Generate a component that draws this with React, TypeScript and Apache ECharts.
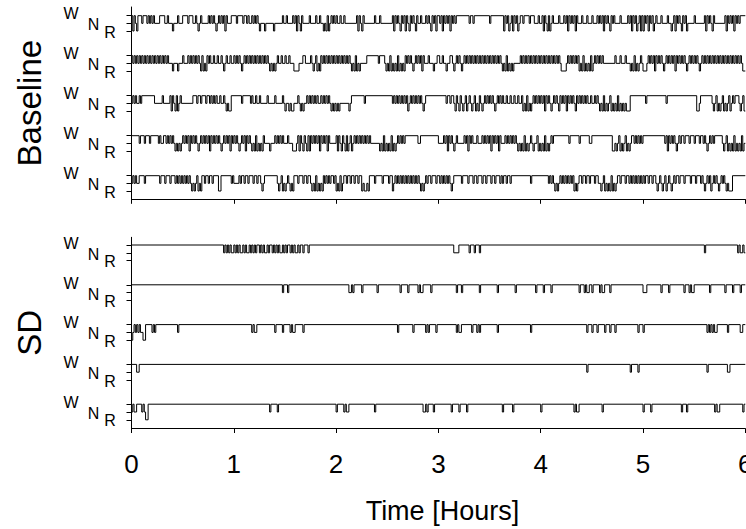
import React, { useEffect, useRef } from "react";
import * as echarts from "echarts";

// ---- data -------------------------------------------------------------
const X_TICKS = [0, 1, 2, 3, 4, 5, 6];
const STATE_LABELS = ["W", "N", "R"]; // wake, NREM, REM (top -> bottom)
const PANEL_NAMES = ["Baseline", "SD"];
const X_TITLE = "Time [Hours]";

// Each trace: one string per hour. Every character is one equal slice of that hour;
// a token like "W48" stands for 48 consecutive slices of W.
const baseline1 = [
  "WRWNRW WWNWWW NWNWNW NNNN WWWW NN WN NN RN NN WN NN WWWWNWWW NN WNRNWN NNNN WNWNWNRNWNWNWRWN NN WW",
  "WWNWWWWNWWNWNN WNWNWN RNNNRNNNNNNRNNNNNN WNNWNN NNWNWRWNRW NNNNNWNNNN WNNWNN RNRWRN WNWN",
  "WNNWNNWN NNNNNNNN WRWNRW NNNNNNNN WNNNWN NNNNNNNN WRWNWNRWNWRWNRWNWNRW NNWNNNWN WNRWNWRW",
  "WNWRWNWNWRWNWN W10 NWWN W12 NW W8 WRWNWRNWRWNWRN WWNWWWWNWWWN NNWN",
  "NWRWNRWRNW NNNNWNNN WNWRWNWNWRWN NNWNNNWNNNWNNNWN WNWRWNWNRWNW NNNNWNNNNNWN WRWNWRNWRW",
  "RWNWRWNWRNWN NNWNNNNWNNRN WRWNWNRWNWRN NNNNWNNNNNNN WRWNWNRW NNNNNNNN WRWNWNWRWNWN WWWW",
];
const baseline2 = [
  "WNWNWNWNWNWNWNWNWNWNWNWNWNWNWN NNRNNNRN NNWNNN WNWNWNWNWN RWRNRW NWNNWNNWNNWNRNWNNWNN",
  "WNWNWNRNWNWNWN WNWNWNWNWNWNWNRN RNRN WNNWNNWNNWNN NRRRRN NNWWNNNNWN RNWRNRWN WNWNWNWNWN",
  "WNWNWNWNWNWN RNRWRNRN NNNN WWWWWWWWWNWWWW NRNRWRNRNRWRNRNR WNWNWNRNWNWNWRWN NNWNNNRNNW",
  "WNNWNNRNNW WNRNWNWNRNWNWNWN WNWNWNWNWNWNWNWNWNWNWNWN RNRWRNRNRN NNNN WNWNWNWNWNWNWNWN",
  "WNWNWNWNWNWNWNWN RRRR NWNWNWNWNW RNRWRNRNRWRN WNWNWNWN NNNNNNNN WNNNWNNNWNNN RNRWRNRNWN",
  "RRRN WNWNWR WNWNWN RNWNWN WNWRWN WNWNWN RNWNWN WNWNRN WNWNWNWNWNWNWNWNWNWNWNWNWNWNWNWN RR",
];
const baseline3 = [
  "NWNWNNWN W10 NNNNNNWNNNNN WRWNRWRNWN NNNNNNNN WWWNWWNWWWNW WNWNWNWN NWNNWNRNRRWW",
  "WWWWWWNWWWWWWN WNNWNNWN NNNNWNNNNNWNNNNNWN RNNRNRRNNN WNRNRNNW NWNWNWNWNNWNWNWNWN RNRN",
  "RNRN NNNNNN RN WWWWWWWWWWNW W20 NWNWNWNWNWNW RN WNWNWNWNWN RN W10",
  "WWWWWW NWWNWW NRWNRWNRNWRNWNRNWRNRWNRN WNWNWNWNRNWNWN WNNWNNWNNWNNWNNW RNRWRNRN WNWNWN",
  "WNWRWNWNRNWNWNRW NWNWRWNWNWNRWNWNWNWN WNNWNNWNWN RNRWRNRNWRNRNRWRNRNRNR RR W10",
  "WW NW W14 NW W22 RR NWWWWWWWWW NRNWRNRNWRNRNWRN WNWWWN RNWR",
];
const baseline4 = [
  "WWWWWWNWWWNWWWNWWWWW WNWNNWWN WNWNWN RNRNRN WNWNWRWNWNWNRNWNWNWNWRWNWNWNWNRNWNWNWRWN",
  "WNWNRNWNWRWNWN RNRWRNRNRW NNNNRNNN WNWNWNWN NNWNNN RRRN WRWNRWNRWRWN WNWNWRWNWNWRWN NNNN",
  "WRWNRWNRWRNWRN WNWNWNWNWNWNWN NNNNNN RNRWRNRNRWRNRN WNWNWN W10 NN W14",
  "NNNN WNWRWNWNRNWN NNNN WNWRWNWN NNWNNNWN WNWNWRWNWNWRWN NNWN WNWNWNWN RNRNRWRNRN WNRNNWRN",
  "RNRWRNRNWN W12 NW W6 NW W6 NN W16 RR NRNWRNRNWRNRNW WNWNWNWN",
  "W16 WNWRWNWNWNRNWN WWNWWWNWWWNWWWNW WNWNRNWNWN W6 NRNWRNRNRWRNRNRWRN",
];
const baseline5 = [
  "NWNWNNWW WWNWWW WWWWWWWW NWWWNWWWNWWW NWNWNWNWNWNW NRNRNWRNRW WNWWNWWN WWWWRRWWWWWWWWNW",
  "NNNNWNWWNWWNWW WNWWNWWNRNWW WWWWWWWW NRNWRNRNWNRNRW WWNWWWNWWNWW NRNRWRNRNRWN WNWNWWNW",
  "RNRWRN WWNWWNWWNWWNWW RNRRNRWW WWNWWWWWNWWWWNWW RNWNWNWNWNWNWNWNWNWNWNRNRNWN WWNWWWNW",
  "WNWNWNWNWNRNWWWW WWNWWWWNWW WNWWNWWWNWWNWWWNWWNWWWNW NWWNWWNWWW WWWWWWWW WWWWNWWWWWWW",
  "WWWWWW NWNWNRNRNWNWNWNWNWNWRNRN WWNWWNWWNWWWNWWN NRNWRNRNRWRNRN WWNWWWNW WNWNWNWNWNWN",
  "WNWWNWWNWW NRNWNRNWRNWNRNWN WWNWWWNWWWWNWWWNWWWN WNRNWNWRNWNWNRNWNWNRNRRR W10",
];

const sd1 = [
  "W72 NWNWNWNN",
  "WNWNWNNWNWNNWN WNWNWWNWNW NNWNWWNWNW NWNNWNWNWW NWNWNNWNWW NWWWNW W20",
  "W",
  "W12 NNNN W8 NWWWNWWWNW W46",
  "W",
  "W48 NW W24 NWNNWN",
];
const sd2 = [
  "W",
  "W38 NW WW NW W36",
  "W10 NNWN W6 NW W10 NW W16 NW W4 NW W6 NWNN W6 NW W4",
  "W14 NW WW NW W12 NW W12 NW W12 NW W14 NW WW",
  "WW NW W4 NW W20 NW WW NWNN WW NW W4 NWNN W4 NW W24",
  "NNNW W10 NW W4 NW W10 NW WW NWNN W12 NW W10 NW W4 NW W4 NW WW",
];
const sd3 = [
  "RNWNWNWNNRRW W4 NWNW W16 NW W42",
  "W14 NWNN W14 NW W4 NW W4 NWNN W6 NW W24",
  "W48 NW W10 NW W8 NWNW W4 NW",
  "W14 NWNN W8 NW WW NWNW W12 NW W24 NW W6",
  "W36 NW WW NW WW NW W4 NW WW NW WW NW W16 NW WW",
  "NW W48 NWNWNWNN W8 NW W8 NNWW",
];
const sd4 = [
  "W4 NN W74",
  "W",
  "W",
  "W",
  "W36 NW W32 NW W4 NW WW",
  "W50 NW W14 NN W12",
];
const sd5 = [
  "NWNN W4 NWNRRW W66",
  "W28 NW W4 NW W44",
  "NW W4 NWNN W20 NW W36 NNWN W4 NW WW",
  "W10 NW W4 NW W4 NW W26 NW W6 NW W20",
  "NW W24 NWNN W18 NW W30",
  "NW W4 NW W22 NW WW NW W20 NWNN W18 NW",
];

const BASELINE_TRACES = [baseline1, baseline2, baseline3, baseline4, baseline5];
const SD_TRACES = [sd1, sd2, sd3, sd4, sd5];

// ---- layout / style ---------------------------------------------------
const FONT = '"Liberation Sans", Arial, Helvetica, sans-serif';
const LEFT = 131.5;
const PLOT_W = 613.8;
type PanelLayout = { top: number; height: number; first: number; gap: number; step: number };
const LAYOUT: PanelLayout[] = [
  { top: 7, height: 192.3, first: 8.7, gap: 40, step: 7.65 },
  { top: 237.3, height: 191.2, first: 7.7, gap: 39.8, step: 7.8 },
];
const LABEL_X = [71, 93.5, 110];
const LABEL_DY = [-1.8, 1.5, 1.0];

function expandHour(raw: string): string {
  return raw
    .split(/\s+/)
    .filter(Boolean)
    .map((tok) => {
      const m = tok.match(/^([WNR])(\d+)$/);
      return m ? m[1].repeat(parseInt(m[2], 10)) : tok;
    })
    .join("");
}

function tracePoints(hours: string[], base: number, step: number): [number, number][] {
  const pts: [number, number][] = [];
  let prev = "";
  hours.forEach((raw, h) => {
    const s = expandHour(raw);
    for (let k = 0; k < s.length; k++) {
      const c = s[k];
      if (c !== prev) {
        pts.push([h + k / s.length, base + STATE_LABELS.indexOf(c) * step]);
        prev = c;
      }
    }
  });
  pts.push([X_TICKS[X_TICKS.length - 1], base + STATE_LABELS.indexOf(prev) * step]);
  return pts;
}

export default function App() {
  const ref = useRef<HTMLDivElement>(null);

  useEffect(() => {
    if (!ref.current) return;
    const chart = echarts.init(ref.current, undefined, { renderer: "svg" });
    const panels = [BASELINE_TRACES, SD_TRACES];

    const grids: any[] = [];
    const xAxes: any[] = [];
    const yAxes: any[] = [];
    const series: any[] = [];
    const graphics: any[] = [];

    panels.forEach((traces, p) => {
      const L = LAYOUT[p];
      grids.push({ left: LEFT, top: L.top, width: PLOT_W, height: L.height, containLabel: false, outerBoundsMode: "none" });
      const tickVals: number[] = [];
      traces.forEach((tr, i) => {
        const base = L.first + i * L.gap;
        STATE_LABELS.forEach((lab, s) => {
          const v = base + s * L.step;
          tickVals.push(v);
          graphics.push({
            type: "text",
            x: LABEL_X[s],
            y: L.top + v + LABEL_DY[s],
            silent: true,
            style: {
              text: lab,
              fill: "#000",
              fontSize: 16,
              fontFamily: FONT,
              textAlign: "center",
              textVerticalAlign: "middle",
            },
          });
        });
        series.push({
          type: "line",
          xAxisIndex: p,
          yAxisIndex: p,
          step: "end",
          symbol: "none",
          showSymbol: false,
          silent: true,
          lineStyle: { color: "#000", width: 1 },
          data: tracePoints(tr, base, L.step),
        });
      });

      xAxes.push({
        gridIndex: p,
        type: "value",
        min: X_TICKS[0],
        max: X_TICKS[X_TICKS.length - 1],
        interval: 1,
        position: "bottom",
        axisLine: { show: true, onZero: false, lineStyle: { color: "#000", width: 1 } },
        axisTick: { show: true, inside: false, length: 4.5, lineStyle: { color: "#000", width: 1 } },
        axisLabel:
          p === 1
            ? { show: true, fontSize: 26, fontFamily: FONT, color: "#000", margin: 22 }
            : { show: false },
        splitLine: { show: false },
      });
      yAxes.push({
        gridIndex: p,
        type: "value",
        inverse: true,
        min: 0,
        max: L.height,
        axisLine: { show: true, onZero: false, lineStyle: { color: "#000", width: 1 } },
        axisTick: { show: true, inside: false, length: 5, customValues: tickVals, lineStyle: { color: "#000", width: 1 } },
        axisLabel: { show: false },
        splitLine: { show: false },
      });

      graphics.push({
        type: "text",
        x: 29.5,
        y: L.top + L.height / 2,
        rotation: Math.PI / 2,
        silent: true,
        style: {
          text: PANEL_NAMES[p],
          fill: "#000",
          fontSize: 33,
          fontFamily: FONT,
          textAlign: "center",
          textVerticalAlign: "middle",
        },
      });
    });

    graphics.push({
      type: "text",
      x: LEFT + PLOT_W / 2 + 4,
      y: 511,
      silent: true,
      style: {
        text: X_TITLE,
        fill: "#000",
        fontSize: 27,
        fontFamily: FONT,
        textAlign: "center",
        textVerticalAlign: "middle",
      },
    });

    chart.setOption({
      animation: false,
      backgroundColor: "#fff",
      grid: grids,
      xAxis: xAxes,
      yAxis: yAxes,
      series,
      graphic: graphics,
    });

    return () => chart.dispose();
  }, []);

  return (
    <div
      ref={ref}
      style={{ position: "absolute", left: 0, top: 0, width: 746, height: 529 }}
    />
  );
}
